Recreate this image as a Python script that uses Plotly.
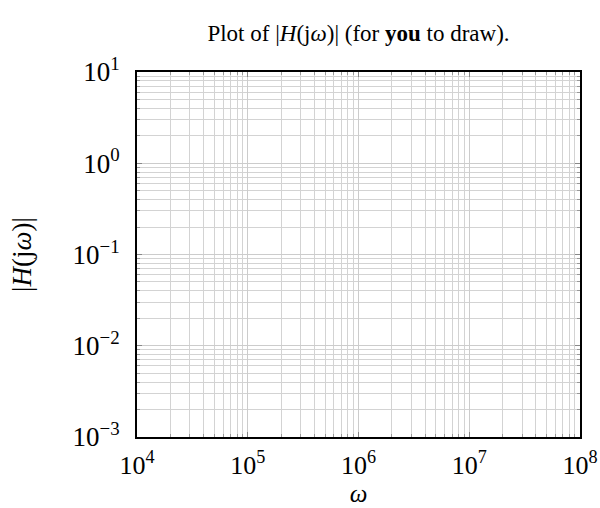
import plotly.graph_objects as go

# axis decades (exponents of 10)
x_exponents = [4, 5, 6, 7, 8]
y_exponents = [-3, -2, -1, 0, 1]

x_tickvals = [10 ** e for e in x_exponents]
y_tickvals = [10.0 ** e for e in y_exponents]
x_ticktext = ["10<sup>%d</sup>" % e for e in x_exponents]
y_ticktext = ["10<sup>%s</sup>" % (str(e).replace("-", "\u2212")) for e in y_exponents]

serif = "Liberation Serif, DejaVu Serif, serif"

fig = go.Figure()
# empty plot: invisible trace so the axes exist
fig.add_trace(go.Scatter(x=[x_tickvals[0], x_tickvals[-1]], y=[y_tickvals[0], y_tickvals[-1]],
                         mode="markers", marker=dict(opacity=0), hoverinfo="skip", showlegend=False))

axis_common = dict(
    type="log", automargin=False,
    showline=True, linecolor="black", linewidth=2, mirror="allticks",
    ticks="inside", ticklen=5, tickcolor="#888888", tickwidth=1,
    showgrid=True, gridcolor="#cccccc", gridwidth=1,
    zeroline=False,
    tickfont=dict(family=serif, size=26, color="black"),
    minor=dict(ticks="inside", ticklen=3, tickcolor="#999999", showgrid=True,
               gridcolor="#d3d3d3", gridwidth=1, dtick="D1"),
)

fig.update_xaxes(axis_common, range=[x_exponents[0], x_exponents[-1]],
                 tickvals=x_tickvals, ticktext=x_ticktext, ticklabelstandoff=4,
                 title=dict(text="<i>ω</i>", font=dict(family=serif, size=25, color="black"), standoff=0))
fig.update_yaxes(axis_common, range=[y_exponents[0], y_exponents[-1]],
                 tickvals=y_tickvals, ticktext=y_ticktext, ticklabelstandoff=10,
                 tickfont=dict(family=serif, size=27, color="black"),
                 title=dict(text="|<i>H</i>(j<i>ω</i>)|", font=dict(family=serif, size=27, color="black"), standoff=33))

fig.update_layout(
    width=600, height=508,
    margin=dict(l=137, r=20, t=72, b=71),
    plot_bgcolor="white", paper_bgcolor="white",
    title=dict(text="Plot of |<i>H</i>(j<i>ω</i>)| (for <b>you</b> to draw).",
               font=dict(family=serif, size=23, color="black"),
               x=0.5, xref="paper", xanchor="center", y=0.935, yanchor="middle"),
)

# drop the default page margin so the 600x508 figure fits the window
fig.write_html("out.html", config={"displayModeBar": False},
               post_script="document.body.style.margin='0';")
